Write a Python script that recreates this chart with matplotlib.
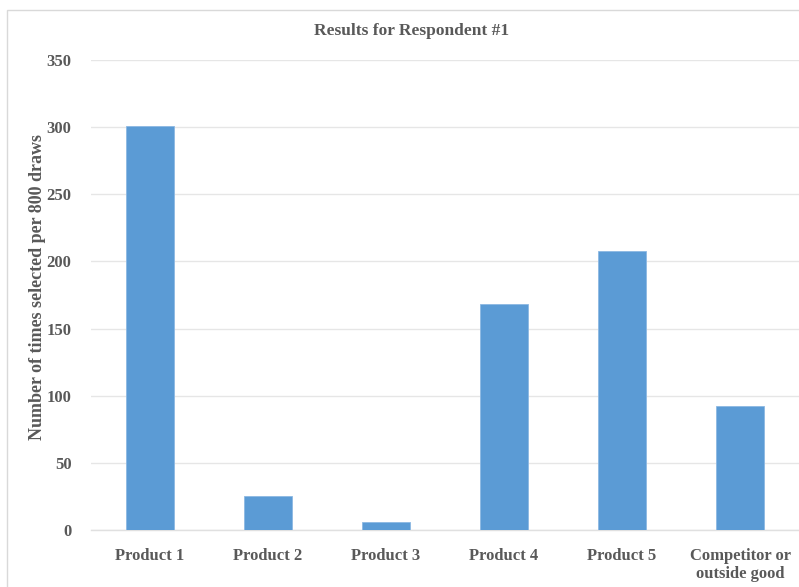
import matplotlib
matplotlib.use("Agg")
import matplotlib.pyplot as plt
from matplotlib.patches import Rectangle

categories = ["Product 1", "Product 2", "Product 3", "Product 4", "Product 5", "Competitor or\noutside good"]
values = [301, 25, 6, 168, 208, 92]
yticks = [0, 50, 100, 150, 200, 250, 300, 350]

plt.rcParams['font.family'] = ['Liberation Serif', 'DejaVu Serif']
txt = '#595959'

fig = plt.figure(figsize=(7.99, 5.87), dpi=100)
fig.patches.append(Rectangle((7/799, -0.1), 1.2, (587-10)/587 + 0.1, transform=fig.transFigure,
                             fill=False, edgecolor='#d9d9d9', linewidth=1.0))
ax = fig.add_axes([91/799, 57/587, 708/799, 470/587])
x = list(range(len(categories)))
ax.bar(x, values, width=0.4, color='#5b9bd5', edgecolor='#8cb8e3', linewidth=0.6, zorder=3)
ax.set_xlim(-0.5, 5.5)
ax.set_ylim(0, 350)
ax.set_yticks(yticks)
ax.set_yticklabels([str(v) for v in yticks], fontsize=12, color=txt, fontweight='bold')
ax.set_xticks(x)
ax.set_xticklabels(categories, fontsize=12, color=txt, fontweight='bold', linespacing=1.2)
ax.grid(axis='y', color='#e6e6e6', linewidth=1.0, zorder=0)
for s in ['top', 'right', 'left']:
    ax.spines[s].set_visible(False)
ax.spines['bottom'].set_color('#e0e0e0')
ax.spines['bottom'].set_linewidth(1.0)
ax.tick_params(axis='y', length=0, pad=14)
ax.tick_params(axis='x', length=0, pad=13)
ax.set_ylabel("Number of times selected per 800 draws", fontsize=13, color=txt, fontweight='bold')
ax.yaxis.set_label_coords((46 - 91) / 708, (530 - 287) / 470)
fig.text((313+510)/2/799, 1 - 31/587, "Results for Respondent #1", ha='center', va='center',
         fontsize=12.5, color=txt, fontweight='bold')
fig.savefig("out.png", dpi=100)
